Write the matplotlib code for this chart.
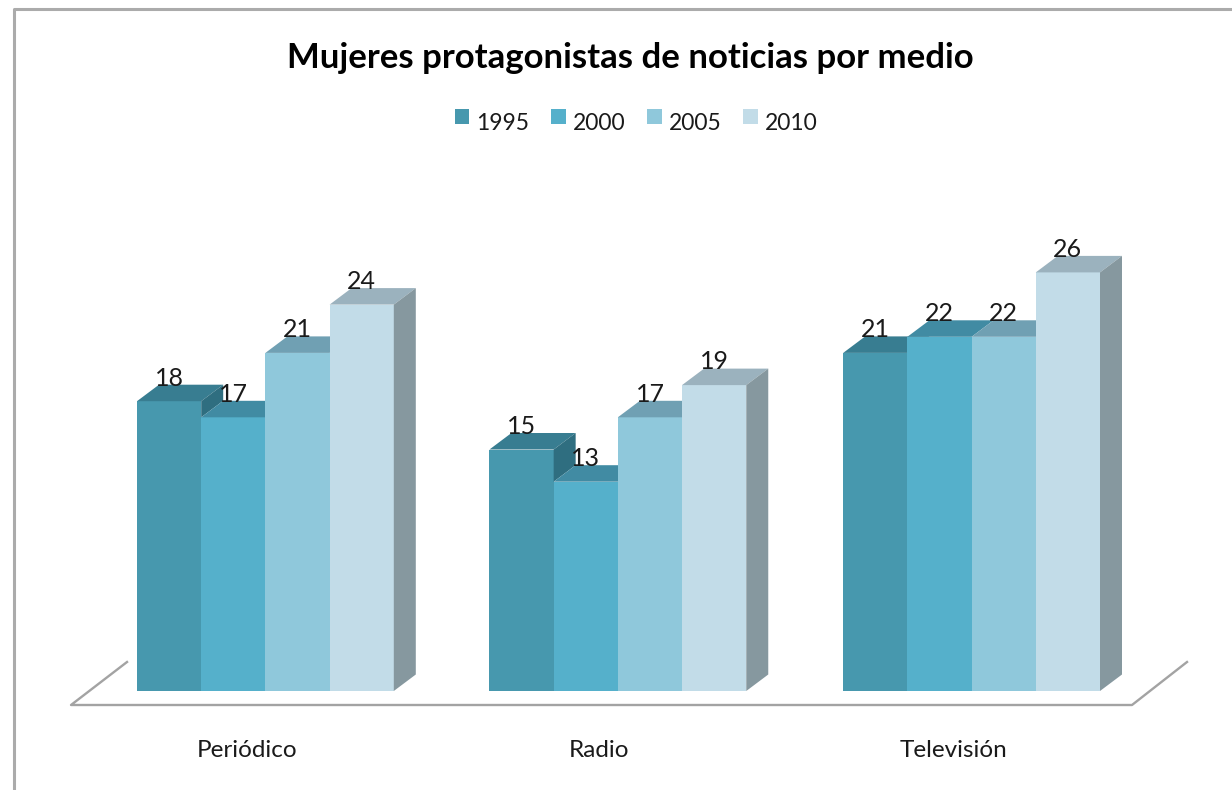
import matplotlib
matplotlib.use("Agg")
import matplotlib.pyplot as plt
from matplotlib.lines import Line2D

plt.rcParams['font.family'] = ['Lato', 'DejaVu Sans']

medios = ['Periódico', 'Radio', 'Televisión']
years = ['1995', '2000', '2005', '2010']
v1995 = [18, 15, 21]
v2000 = [17, 13, 22]
v2005 = [21, 17, 22]
v2010 = [24, 19, 26]
series = [v1995, v2000, v2005, v2010]

front = ['#4798AE', '#55B0CB', '#8FC8DB', '#C2DCE8']
top = ['#387D91', '#418BA3', '#70A0B3', '#9BB2BE']
side = ['#2F6E80', '#3A7F94', '#6690A0', '#86989F']

W, H = 1232, 790
px_x = 64.2   # pixels per bar width
px_y = 16.1   # pixels per value unit
dx = 22 / px_x   # depth of the 3d effect
dy = 16.5 / px_y
group_x = [0, 5.49, 11.0]

fig = plt.figure(figsize=(W / 100, H / 100), dpi=100)
ax = fig.add_axes([0, 0, 1, 1])
x0 = -137 / px_x
y0 = -(H - 691) / px_y
ax.set_xlim(x0, x0 + W / px_x)
ax.set_ylim(y0, y0 + H / px_y)
ax.axis('off')

# border, only top and left are visible in the picture
fig.add_artist(Line2D([13.5 / W, 13.5 / W, 1], [0, 1 - 8.5 / H, 1 - 8.5 / H],
                      transform=fig.transFigure, color='#ABABAB', lw=2.2))

# floor
fx = [-66 / px_x, -10 / px_x]
fr = [995 / px_x, 1050 / px_x]
fy0 = -14 / px_y
fy1 = 29 / px_y
ax.plot([fx[1], fx[0], fr[0], fr[1]], [fy1, fy0, fy0, fy1], color='#A3A3A3', lw=1.7, zorder=1)

handles = []
for g in range(3):
    for s in range(4):
        x = group_x[g] + s
        v = series[s][g]
        z = 2 + g * 4 + s
        b = ax.bar(x, v, width=1, align='edge', color=front[s], lw=0, zorder=z)
        if g == 0:
            handles.append(b[0])
        ax.fill([x, x + dx, x + 1 + dx, x + 1], [v, v + dy, v + dy, v], color=top[s], lw=0, zorder=z)
        # side only where the next bar does not hide it
        nxt = series[s + 1][g] if s < 3 else 0
        if nxt < v:
            ax.fill([x + 1, x + 1 + dx, x + 1 + dx, x + 1], [nxt, nxt + dy, v + dy, v],
                    color=side[s], lw=0, zorder=z)
        ax.text(x + 0.5, v + dy - 0.05, str(v), ha='center', va='baseline', fontsize=18,
                color='#1A1A1A', zorder=50)
    ax.text(group_x[g] + 110 / px_x, -59.5 / px_y, medios[g], ha='center', va='center', fontsize=17.5,
            color='#1A1A1A')

ax.text(630 / W, 1 - 58 / H, 'Mujeres protagonistas de noticias por medio', transform=ax.transAxes,
        ha='center', va='center', fontsize=25, fontweight='bold', color='black')

leg = ax.legend(handles, years, loc='center', bbox_to_anchor=(636 / W, 1 - 118 / H), ncol=4, frameon=False,
                fontsize=16.5, handlelength=0.64, handleheight=0.64, handletextpad=0.3, columnspacing=0.95,
                labelcolor='#1A1A1A', borderpad=0, borderaxespad=0)
for t in leg.get_texts():
    t.set_y(-5)

fig.savefig('out.png', dpi=100)
